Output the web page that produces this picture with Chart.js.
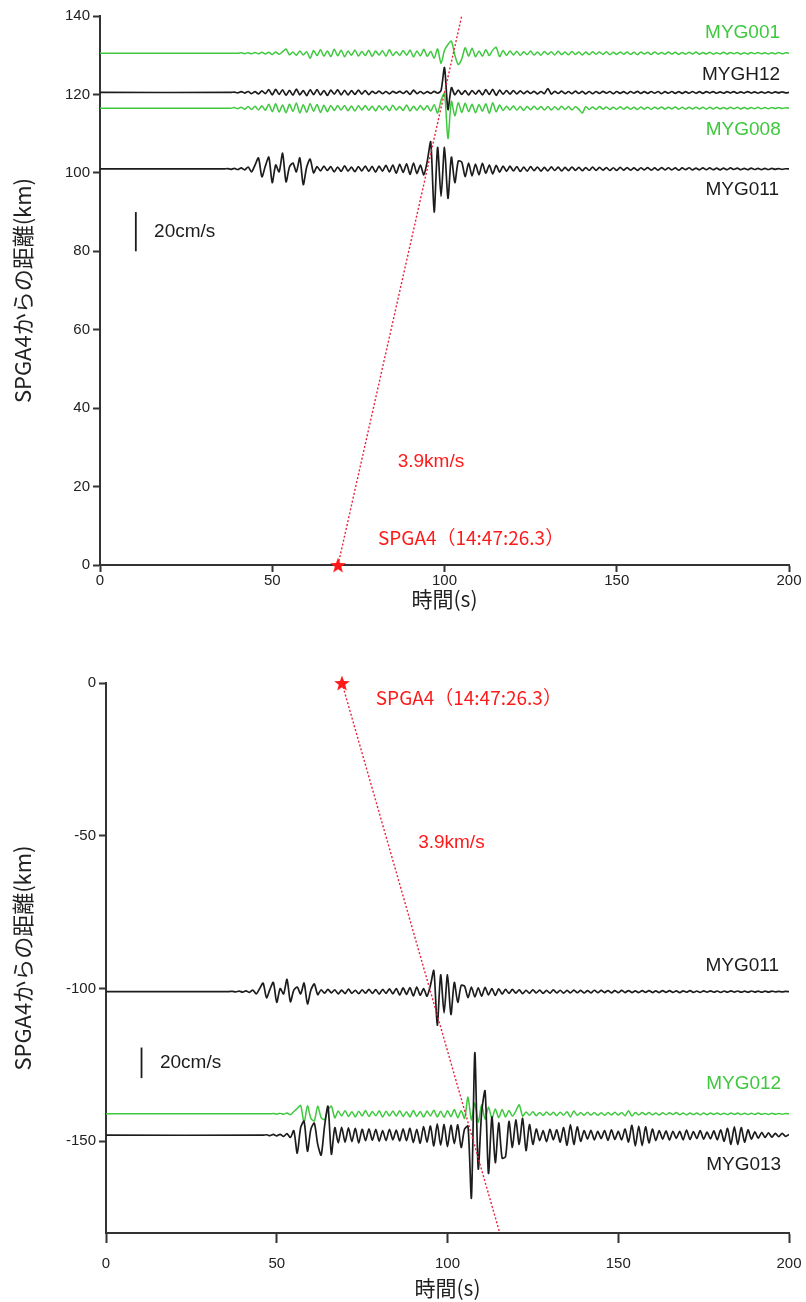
<!DOCTYPE html>
<html>
<head>
<meta charset="utf-8">
<script src="https://cdn.jsdelivr.net/npm/chart.js@4.4.1/dist/chart.umd.min.js"></script>
<style>
html, body { margin: 0; padding: 0; background: #fff; }
body { width: 806px; height: 1302px; position: relative; overflow: hidden; }
canvas { position: absolute; left: 0; }
#upper { top: 0; }
#lower { top: 630px; }
</style>
</head>
<body>
<canvas id="upper" width="806" height="615"></canvas>
<canvas id="lower" width="806" height="672"></canvas>
<script>
// readings: velocity in cm/s, one value per second starting at the trace's start time
var sampleStep = 1;
var kmPerCms = 0.5;           // 20 cm/s scale bar spans 10 km

var myg001 = [0, 0.2, -0.2, 0.3, -0.3, 0.4, -0.3, 0.5, -0.4, 0.5, -0.6, 0.6, -0.5, 0.8,
  2.2,
  -0.8, 0.6, -1.0, 1.2, -0.9, 0.8,
  -2.6,
  1.4, -1.2, 1.8, -1.5, 1.2, -1.7, 2.0, -1.3, 1.5, -1.8, 1.2, -1.0, 1.6, -1.4, 0.9, -1.2, 1.5, -1.6, 1.1, -0.9,
  1.3, -1.5, 1.8, -1.2, 0.8, -1.1, 1.4, -1.0, 1.6, -1.9, 1.2, -1.4, 2.0, -1.6, 1.0,
  -2.5, 2.2, -5.2, 1.5, 4.5, 6.2, -1.0, -5.8, -3.0, 2.8, -1.5, 2.6, -1.8, 1.2,
  -1.5, 1.8, -1.2, 1.6, 3.0, -1.7, 1.4, -1.1,
  1.2, -0.9, 1.0, -1.1, 0.8, -0.7, 1.1, -0.9, 0.7, -1.0, 0.9, -0.6, 0.8, -0.9, 1.0, -0.7,
  0.6, -0.8, 0.9, -0.6, 0.7, -0.9, 0.6, -0.7, 0.8, -0.5, 0.7, -0.6, 0.8, -0.7, 0.5, -0.6,
  0.7, -0.5, 0.6, -0.6, 0.5, -0.7, 0.6, -0.4, 0.5, -0.6, 0.7, -0.5, 0.4, -0.5, 0.6, -0.4, 0.5, -0.6,
  0.4, -0.5, 0.5, -0.4, 0.6, -0.5, 0.4, -0.4, 0.5, -0.5, 0.3, -0.4, 0.5, -0.4, 0.4, -0.3, 0.4, -0.5,
  0.3, -0.4, 0.4, -0.3, 0.4, -0.3, 0.3, -0.4, 0.3, -0.3, 0.4, -0.3, 0.2, 0];

var mygh12 = [0, 0.2, -0.2, 0.4, -0.3, 0.5, -0.6, 0.4, -0.7, 0.8, -0.6,
  1.4, -1.2, 1.6, -1.0, 1.3, -1.5, 1.1, -1.4, 1.7, -1.2, 0.9, -1.6, 1.4, -1.1, 1.5,
  -1.3, 1.0, -1.5, 1.2, -0.9, 1.4, -1.2, 1.1, -1.3, 0.9, -1.0, 1.2, -0.8, 1.0, -1.1,
  0.6, -0.5, 0.7, -0.6, 0.5, -0.7, 0.6, -0.4, 0.6, -0.5, 0.7, -1.0, 1.2, -0.6, 0.5, -0.6, 0.4, -0.5, 0.6, -0.4, 1.0,
  12.7, -8.7, 2.5, -1.2,
  1.2, -1.0, 0.9, -1.3, 1.0, -0.8, 1.1, -1.2, 1.4, -1.0, 1.6, -1.5, 1.2, -0.9, 1.0, -0.8, 0.9, -0.7, 0.8,
  -0.6, 0.7, -0.5, 0.6, -0.7, 0.5, -0.6, 2.0, -0.8, 0.6,
  -0.5, 0.7, -0.6, 0.5, -0.6, 0.7, -0.5, 0.6, -0.7, 0.5,
  -0.6, 0.5, -0.5, 0.6, -0.4, 0.5, -0.6, 0.5, -0.5, 0.4,
  -0.6, 0.5, -0.4, 0.6, -0.5, 0.4, -0.5, 0.5, -0.4, 0.5,
  -0.6, 0.4, -0.4, 0.5, -0.5, 0.4, -0.5, 0.4, -0.4, 0.5,
  -0.4, 0.4, -0.5, 0.4, -0.3, 0.4, -0.4, 0.3, -0.4, 0.4,
  -0.3, 0.4, -0.4, 0.3, -0.3, 0.4, -0.3, 0.3, -0.4, 0.3,
  -0.3, 0.3, -0.3, 0.3, -0.2, 0.3, -0.2, 0];

var myg008 = [0, 0.3, -0.3, 0.5, -0.6, 0.8, -0.7, 1.0, -0.9, 1.2, -1.1,
  2.0, -1.8, 2.2, -2.0, 1.6, -2.4, 2.0, -1.7, 2.6, -2.5, 1.8, -2.1, 2.3, -1.6, 1.9, -2.2, 1.5, -1.8, 1.4,
  -1.2, 1.3, -1.0, 1.4, -1.3, 1.1, -1.5, 1.2, -0.9, 1.3, -1.1, 1.0, -1.4, 1.2, -0.8,
  1.1, -1.3, 1.5, -1.0, 0.9, -1.2, 1.6, -1.4, 1.0, -1.1, 1.3, -0.9, 1.2, -1.5, 1.8,
  -2.5, 4.0, 7.5, -15.5, 3.5, -4.0,
  2.8, -2.2, 2.5, -1.8, 2.0, -2.4, 1.9, -1.5, 2.2, -2.6, 2.8, -1.9, 1.6,
  -1.2, 1.0, -0.9, 1.1, -1.0, 0.8, -1.1, 0.9, -0.8, 1.0, -0.7, 0.9, -1.0, 0.8, -0.9, 0.7,
  -0.8, 1.0, -0.7, 0.8, -0.9, 0.7, -0.6, -2.5, 0.8,
  -0.7, 0.6, -0.7, 0.8, -0.5, 0.6, -0.7, 0.5, -0.6, 0.7, -0.5, 0.6, -0.6, 0.5, -0.7, 0.6, -0.5, 0.5,
  -0.6, 0.5, -0.4, 0.6, -0.5, 0.5, -0.4, 0.6, -0.5, 0.4, -0.5, 0.5, -0.4, 0.5, -0.4, 0.4, -0.5, 0.4,
  -0.4, 0.5, -0.4, 0.3, -0.4, 0.4, -0.3, 0.4, -0.4, 0.3, -0.4, 0.3, -0.3, 0.4, -0.3, 0.3, -0.3, 0.3,
  -0.2, 0.3, -0.2, 0.2, 0];

var myg011 = [0, 0.2, -0.2, 0.3, -0.3, 0.5, -0.5,
  1.0, -1.5, 2.0, 5.6, -4.0, 1.5, 6.0, -7.0, 2.0, -1.5, 8.0, -6.6, 1.0, 3.0, -1.5, 5.6, -8.0, 1.0, 5.0,
  -2.0, 1.2, -1.0, 1.4, -0.8, 1.2, -1.5, 1.0, -1.3, 1.6, -1.1, 0.9, -1.4, 1.2, -1.0, 1.5,
  -1.2, 1.3, -1.6, 1.4, -1.1, 1.8, -1.5, 2.0, -2.2, 2.4, -1.8, 2.6, -2.8, 3.0, -2.4,
  2.0, -3.0, 4.0, 13.8, -22.0, 11.0, -14.0, 11.0, -15.0, 6.0, -7.0, 4.0,
  3.5, -4.0, 3.0, -3.5, 2.5, -3.0, 2.8, -2.2, 2.0, -2.5, 1.8, -1.6,
  1.5, -1.2, 1.4, -1.0, 1.2, -1.3, 0.9, -1.1, 1.2, -0.9,
  1.0, -1.1, 0.8, -1.0, 1.1, -0.8, 0.9, -1.0, 0.8, -0.9,
  1.0, -0.7, 0.8, -0.9, 0.7, -0.8, 0.9, -0.7, 0.8, -0.6,
  0.7, -0.8, 0.6, -0.7, 0.8, -0.6, 0.7, -0.6, 0.5, -0.7,
  0.6, -0.5, 0.7, -0.6, 0.5, -0.6, 0.7, -0.5, 0.6, -0.5,
  0.5, -0.6, 0.5, -0.4, 0.6, -0.5, 0.4, -0.5, 0.5, -0.4,
  0.5, -0.4, 0.4, -0.5, 0.4, -0.4, 0.5, -0.3, 0.4, -0.4,
  0.3, -0.4, 0.4, -0.3, 0.3, -0.4, 0.3, -0.3, 0.3, -0.2,
  0.2, -0.2, 0.1, 0];

var myg012 = [0, 0.2, -0.2, 0.3, -0.3, 0.5, -0.6,
  1.5, 3.5, 5.5, -5.8, 5.2, -3.0, -4.6, 5.0, -2.5, -3.8, 2.5, 5.0,
  -2.6, 1.8, -1.4, 2.1, -1.7, 1.3, -2.0, 1.7, -1.4, 2.2,
  -1.8, 1.5, -1.3, 2.0, -2.1, 1.7, -1.4, 1.8, -1.5, 2.1,
  -1.7, 1.4, -2.0, 2.2, -1.7, 1.5, -2.1, 1.8, -1.4, 2.4,
  -2.0, 1.7, -2.2, 2.1, -1.8, 2.8, -2.5, 2.1,
  -3.0, 11.0, -4.0, 7.0, -5.5, 6.0, -3.5, 4.5, -3.0, 3.2, -2.5, 2.8, -2.0, 2.2, -1.5, 1.8,
  5.9,
  -1.5, 1.2, -1.0, 1.3, -1.2, 0.9, -1.1, 1.2, -0.8, 1.0,
  -1.2, 1.1, -0.9, 1.4, -2.0, 1.8, -1.0, 0.8, -0.9, 1.0,
  -0.8, 0.9, -1.0, 0.7, -0.9, 0.8, -0.7, 1.0, -0.8, 0.9,
  -1.2, 2.0, -1.4, 0.8, -0.7, 0.9, -0.6, 0.8, -0.7, 0.6,
  -0.8, 0.7, -0.6, 0.7, -0.5, 0.8, -0.6, 0.5, -0.7, 0.6,
  -0.5, 0.6, -0.7, 0.5, -0.6, 0.5, -0.4, 0.6, -0.5, 0.4,
  -0.5, 0.6, -0.4, 0.5, -0.5, 0.4, -0.5, 0.4, -0.4, 0.5,
  -0.4, 0.3, -0.4, 0.4, -0.3, 0.3, -0.3, 0.2, 0];

var myg013 = [0, 0.3, -0.3, 0.5, -0.4, 0.6, -0.8, 1.0, -1.5,
  3.0, -11.8, 5.0, 9.2, -10.5, 4.0, 7.9, -6.0, -13.0, 6.0, 19.0, -12.4, 5.0,
  -5.0, 5.2, -4.5, 4.8, -4.2, 4.5, -5.1, 3.9, -3.6, 4.2,
  -3.3, 3.8, -3.9, 3.0, -3.5, 3.9, -3.0, 3.3, -3.8, 4.2,
  -3.6, 4.5, -4.8, 3.9, -5.2, 5.7, -4.5,
  6.0, -7.0, 7.5, -6.5, 7.0, -7.5, 6.5, -5.5, 6.8, -8.0, 4.0,
  6.0, -41.0, 54.0, -22.0, 15.0, 29.0, -25.0, 12.0, -18.0, 8.0, -15.0,
  -14.0, 9.0, -8.0, 10.0, -6.0, 11.0, -10.0, 7.0, -6.0,
  4.0, -3.5, 3.0, -4.2, 3.8, -3.0, 3.5, -4.5, 5.0,
  -6.5, 7.0, -6.0, 5.5, -4.0,
  3.0, -2.5, 3.2, -3.0, 2.6, -2.2, 3.0, -3.4, 3.5, -2.8, 2.5, -3.0, 4.0, -4.5,
  6.5, -7.0, 6.0, -6.8, 5.5, -5.0, 4.0, -3.5,
  3.0, -2.5, 2.8, -3.2, 2.6, -2.0, 2.5, -3.0, 3.4, -2.8, 2.4, -2.2, 3.0, -2.6, 2.0, -2.4, 2.8, -3.0, 3.5, -4.0, 4.5,
  -6.0, 5.5, -6.2, 5.0, -4.5, 3.5,
  -2.5, 2.2, -2.0, 1.8, -1.5, 1.6, -1.3, 1.2, -1.0, 1.2, -0.8, 0.5];

// stations, distance from SPGA4 (km) and first reading time (s)
var upperStations = ['MYG001', 'MYGH12', 'MYG008', 'MYG011'];
var upperDistances = [130.5, 120.5, 116.5, 101];
var upperStart = [40, 38, 38, 36];
var upperTraces = [myg001, mygh12, myg008, myg011];

var lowerStations = ['MYG011', 'MYG012', 'MYG013'];
var lowerDistances = [-101, -141, -148];
var lowerStart = [36, 48, 46];
var lowerTraces = [myg011, myg012, myg013];

// SPGA4 origin and the 3.9 km/s moveout line
var sourceTime = [69.1];
var sourceDist = [0];
var moveoutUpperT = [69.1, 105.0];
var moveoutUpperD = [0, 140];
var moveoutLowerT = [69.1, 115.3];
var moveoutLowerD = [0, -180];

// 20 cm/s scale bar
var barTime = [10.4, 10.4];
var barUpper = [80, 90];
var barLower = [-129.3, -119.3];

var timeTicks = [0, 50, 100, 150, 200];

var GREEN = '#3ec83e';
var BLACK = '#1c1c1c';
var RED = '#ff1a1a';
var stationColor = { MYG001: GREEN, MYGH12: BLACK, MYG008: GREEN, MYG011: BLACK, MYG012: GREEN, MYG013: BLACK };

var LATIN = '"Liberation Sans", Arial, sans-serif';
var JP = '"Noto Sans CJK JP", sans-serif';

// filled star used as the source marker
var star = document.createElement('canvas');
star.width = 18; star.height = 18;
(function () {
  var c = star.getContext('2d');
  c.beginPath();
  for (var i = 0; i < 10; i++) {
    var r = i % 2 ? 3.4 : 8.2;
    var a = -Math.PI / 2 + i * Math.PI / 5;
    c.lineTo(9 + r * Math.cos(a), 9.8 + r * Math.sin(a));
  }
  c.closePath();
  c.fillStyle = RED;
  c.fill();
})();

function pairs(xs, ys) {
  return xs.map(function (x, i) { return { x: x, y: ys[i] }; });
}

function traceSet(name, start, vals, base) {
  var pts = [{ x: 0, y: base }];
  vals.forEach(function (v, i) {
    pts.push({ x: start + i * sampleStep, y: base + v * kmPerCms });
  });
  var col = stationColor[name];
  return {
    data: pts, borderColor: col, borderWidth: col === BLACK ? 1.7 : 1.5, pointRadius: 0,
    tension: 0.25, fill: false, order: col === BLACK ? 2 : 3
  };
}

function extraSets(mt, md, bt, bd) {
  return [
    { data: pairs(sourceTime, sourceDist), showLine: false, pointStyle: star, pointRadius: 9, clip: false, order: 0 },
    { data: pairs(mt, md), borderColor: '#e8223e', borderWidth: 1.4, borderDash: [2, 2], pointRadius: 0, order: 1 },
    { data: pairs(bt, bd), borderColor: BLACK, borderWidth: 1.8, pointRadius: 0, order: 1 }
  ];
}

var notesPlugin = {
  id: 'notes',
  afterDatasetsDraw: function (chart, args, opts) {
    var ctx = chart.ctx, xs = chart.scales.x, ys = chart.scales.y;
    opts.items.forEach(function (it) {
      ctx.save();
      ctx.font = it.font;
      ctx.fillStyle = it.color;
      ctx.textAlign = it.align;
      ctx.textBaseline = 'middle';
      ctx.fillText(it.text, xs.getPixelForValue(it.x), ys.getPixelForValue(it.y));
      ctx.restore();
    });
  }
};

function axes(yMin, yMax, yWidth, xHeight, xTickLen, xTickPad, xTitlePad) {
  return {
    x: {
      type: 'linear', min: 0, max: 200,
      afterBuildTicks: function (s) { s.ticks = timeTicks.map(function (v) { return { value: v }; }); },
      afterFit: function (s) { s.height = xHeight; s.paddingLeft = 0; s.paddingRight = 12; },
      ticks: { color: '#222', padding: xTickPad, font: { family: LATIN, size: 15 } },
      grid: { drawOnChartArea: false, tickLength: xTickLen, tickWidth: 2, tickColor: '#333' },
      border: { color: '#333', width: 2 },
      title: { display: true, text: '時間(s)', color: '#222', padding: { top: 0, bottom: xTitlePad }, font: { family: JP, size: 21 } }
    },
    y: {
      type: 'linear', min: yMin, max: yMax,
      ticks: { stepSize: 20, color: '#222', padding: 3, font: { family: LATIN, size: 15 } },
      afterFit: function (s) { s.width = yWidth; },
      grid: { drawOnChartArea: false, tickLength: 7, tickWidth: 2, tickColor: '#333' },
      border: { color: '#333', width: 2 },
      title: { display: true, text: 'SPGA4からの距離(km)', color: '#222', padding: { top: 9, bottom: 0 }, font: { family: JP, size: 22 } }
    }
  };
}

function labelFont(sz) { return sz + 'px ' + LATIN; }

// ---------- upper panel ----------
var upperSets = extraSets(moveoutUpperT, moveoutUpperD, barTime, barUpper);
upperStations.forEach(function (n, i) {
  upperSets.push(traceSet(n, upperStart[i], upperTraces[i], upperDistances[i]));
});
var upperAxes = axes(0, 140, 100, 50, 7, 0, 3);

new Chart(document.getElementById('upper'), {
  type: 'line',
  data: { datasets: upperSets },
  options: {
    responsive: false, animation: false, events: [],
    layout: { padding: { left: 0, right: 17, top: 16, bottom: 0 } },
    scales: upperAxes,
    plugins: {
      legend: { display: false }, tooltip: { enabled: false },
      notes: {
        items: [
          { text: upperStations[0], x: 197.4, y: 135.6, color: GREEN, align: 'right', font: labelFont(19) },
          { text: upperStations[1], x: 197.4, y: 125.0, color: BLACK, align: 'right', font: labelFont(19) },
          { text: upperStations[2], x: 197.6, y: 110.9, color: GREEN, align: 'right', font: labelFont(19) },
          { text: upperStations[3], x: 197.1, y: 95.6, color: BLACK, align: 'right', font: labelFont(19) },
          { text: '20cm/s', x: 15.7, y: 85.0, color: BLACK, align: 'left', font: labelFont(19) },
          { text: '3.9km/s', x: 86.4, y: 26.3, color: RED, align: 'left', font: labelFont(19) },
          { text: 'SPGA4（14:47:26.3）', x: 80.7, y: 6.9, color: RED, align: 'left', font: '19px ' + JP }
        ]
      }
    }
  },
  plugins: [notesPlugin]
});

// ---------- lower panel ----------
var lowerSets = extraSets(moveoutLowerT, moveoutLowerD, barTime, barLower);
lowerStations.forEach(function (n, i) {
  lowerSets.push(traceSet(n, lowerStart[i], lowerTraces[i], lowerDistances[i]));
});
var lowerAxes = axes(-180, 0, 106, 69, 10, 12, 1);
lowerAxes.y.ticks.stepSize = 50;
lowerAxes.y.afterBuildTicks = function (s) {
  s.ticks = s.ticks.filter(function (t) { return t.value % 50 === 0; });
};

new Chart(document.getElementById('lower'), {
  type: 'line',
  data: { datasets: lowerSets },
  options: {
    responsive: false, animation: false, events: [],
    layout: { padding: { left: 0, right: 17, top: 53, bottom: 0 } },
    scales: lowerAxes,
    plugins: {
      legend: { display: false }, tooltip: { enabled: false },
      notes: {
        items: [
          { text: lowerStations[0], x: 197.1, y: -92.7, color: BLACK, align: 'right', font: labelFont(19) },
          { text: lowerStations[1], x: 197.7, y: -131.3, color: GREEN, align: 'right', font: labelFont(19) },
          { text: lowerStations[2], x: 197.7, y: -157.8, color: BLACK, align: 'right', font: labelFont(19) },
          { text: '20cm/s', x: 15.8, y: -124.4, color: BLACK, align: 'left', font: labelFont(19) },
          { text: '3.9km/s', x: 91.4, y: -52.4, color: RED, align: 'left', font: labelFont(19) },
          { text: 'SPGA4（14:47:26.3）', x: 79.0, y: -4.9, color: RED, align: 'left', font: '19px ' + JP }
        ]
      }
    }
  },
  plugins: [notesPlugin]
});
</script>
</body>
</html>
